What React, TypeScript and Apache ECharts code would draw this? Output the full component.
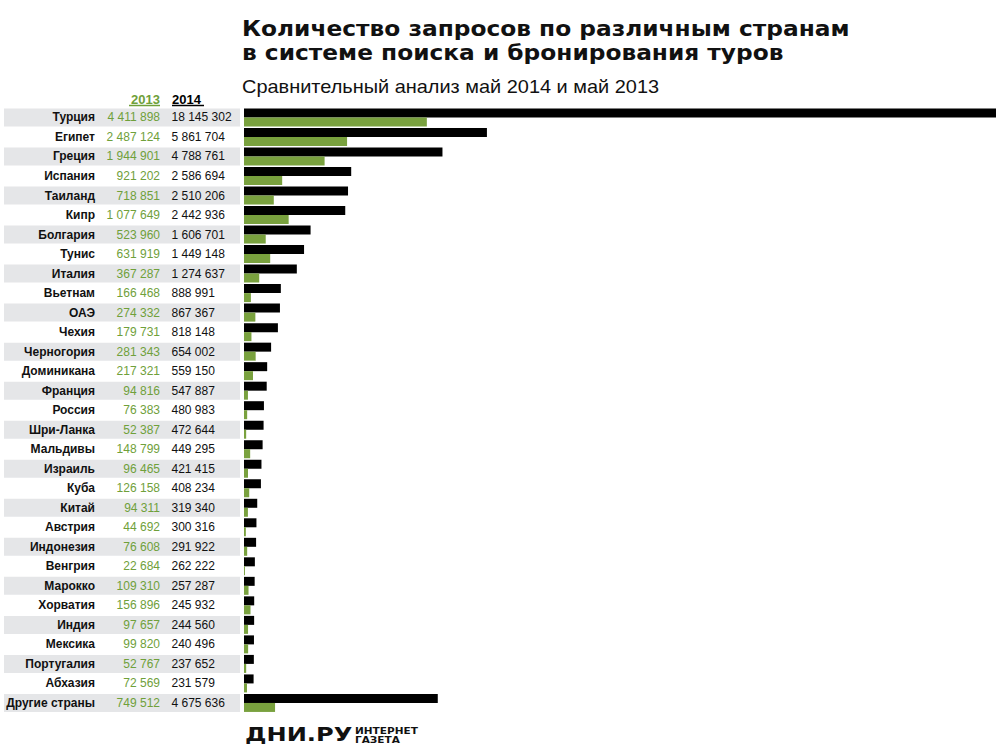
import React, { useEffect, useRef } from "react";
import * as echarts from "echarts";

const countries = ["Турция","Египет","Греция","Испания","Таиланд","Кипр","Болгария","Тунис","Италия","Вьетнам","ОАЭ","Чехия","Черногория","Доминикана","Франция","Россия","Шри-Ланка","Мальдивы","Израиль","Куба","Китай","Австрия","Индонезия","Венгрия","Марокко","Хорватия","Индия","Мексика","Португалия","Абхазия","Другие страны"];
const v2013 = [4411898,2487124,1944901,921202,718851,1077649,523960,631919,367287,166468,274332,179731,281343,217321,94816,76383,52387,148799,96465,126158,94311,44692,76608,22684,109310,156896,97657,99820,52767,72569,749512];
const v2014 = [18145302,5861704,4788761,2586694,2510206,2442936,1606701,1449148,1274637,888991,867367,818148,654002,559150,547887,480983,472644,449295,421415,408234,319340,300316,291922,262222,257287,245932,244560,240496,237652,231579,4675636];
const seriesNames = ["2014", "2013"];
const titleLines = ["Количество запросов по различным странам", "в системе поиска и бронирования туров"];
const subText = "Сравнительный анализ май 2014 и май 2013";

const FONT = "Liberation Sans, Arial, sans-serif";
const HEAVY = "DejaVu Sans, sans-serif";
const GREEN_BAR = "#79a13e";
const GREEN_TXT = "#6fa03a";
const GRAY = "#e5e6e8";

const fmt = (n: number) => String(n).replace(/\B(?=(\d{3})+(?!\d))/g, " ");

function rich() {
  const r: any = {};
  [0, 1].forEach((k) => {
    const bg = k === 0 ? GRAY : "transparent";
    const base = { height: 18, backgroundColor: bg, fontFamily: FONT, fontSize: 12, lineHeight: 18, align: "right" };
    r["n" + k] = { ...base, width: 91, fontWeight: "bold", color: "#111" };
    r["g" + k] = { ...base, width: 65, color: GREEN_TXT };
    r["f" + k] = { ...base, width: 80, color: "#111" };
  });
  return r;
}

export default function App() {
  const ref = useRef<HTMLDivElement>(null);
  useEffect(() => {
    if (!ref.current) return;
    const chart = echarts.init(ref.current, undefined, { renderer: "svg" });
    chart.setOption({
      animation: false,
      backgroundColor: "#fff",
      grid: { left: 244, right: 4, top: 107.7, height: 605, containLabel: false },
      xAxis: {
        type: "value",
        min: 0,
        max: 18145302,
        show: false,
      },
      yAxis: [
        {
          type: "category",
          data: countries,
          inverse: true,
          axisLine: { show: false },
          axisTick: { show: false },
          axisLabel: {
            interval: 0,
            margin: 4,
            formatter: (value: string, index: number) => {
              const k = index % 2 === 0 ? 0 : 1;
              return `{n${k}|${value}}{g${k}|${fmt(v2013[index])}}{f${k}| }`;
            },
            rich: rich(),
          },
        },
        {
          type: "category",
          data: countries,
          inverse: true,
          position: "left",
          z: 5,
          axisLine: { show: false },
          axisTick: { show: false },
          splitLine: { show: false },
          axisLabel: {
            interval: 0,
            margin: 72.5,
            align: "left",
            fontFamily: FONT,
            fontSize: 12,
            color: "#111",
            formatter: (_value: string, index: number) => fmt(v2014[index]),
          },
        },
      ],
      series: [
        {
          name: seriesNames[0],
          type: "bar",
          data: v2014,
          barWidth: 9,
          barGap: "0%",
          itemStyle: { color: "#000" },
        },
        {
          name: seriesNames[1],
          type: "bar",
          data: v2013,
          barWidth: 9,
          barGap: "0%",
          itemStyle: { color: GREEN_BAR },
        },
      ],
      graphic: [
        { type: "text", x: 242, y: 28.7, scaleX: 1.11, style: { text: titleLines[0], fill: "#111", font: `bold 21px ${HEAVY}`, verticalAlign: "middle" } },
        { type: "text", x: 242, y: 52.4, scaleX: 1.11, style: { text: titleLines[1], fill: "#111", font: `bold 21px ${HEAVY}`, verticalAlign: "middle" } },
        { type: "text", x: 242, y: 87.2, scaleX: 1.127, style: { text: subText, fill: "#111", font: `17.7px ${FONT}`, verticalAlign: "middle" } },
        { type: "text", x: 160, y: 99, style: { text: "2013", fill: GREEN_TXT, font: `bold 13px ${FONT}`, align: "right", verticalAlign: "middle" } },
        { type: "line", shape: { x1: 129, y1: 105.5, x2: 160, y2: 105.5 }, style: { stroke: GREEN_TXT, lineWidth: 1.5 } },
        { type: "text", x: 172, y: 99, style: { text: "2014", fill: "#000", font: `bold 13px ${FONT}`, align: "left", verticalAlign: "middle" } },
        { type: "line", shape: { x1: 172, y1: 105.5, x2: 204, y2: 105.5 }, style: { stroke: "#000", lineWidth: 1.5 } },
        { type: "text", x: 245, y: 734.5, scaleX: 1.27, style: { text: "ДНИ.РУ", fill: "#111", font: `bold 19px ${HEAVY}`, verticalAlign: "middle" } },
        { type: "text", x: 355, y: 730.8, scaleX: 1.27, style: { text: "ИНТЕРНЕТ", fill: "#111", font: `bold 8.3px ${HEAVY}`, verticalAlign: "middle" } },
        { type: "text", x: 355, y: 739.5, scaleX: 1.27, style: { text: "ГАЗЕТА", fill: "#111", font: `bold 8.3px ${HEAVY}`, verticalAlign: "middle" } },
      ],
    });
    return () => chart.dispose();
  }, []);
  return <div ref={ref} style={{ position: "fixed", left: 0, top: 0, width: 1000, height: 750 }} />;
}
